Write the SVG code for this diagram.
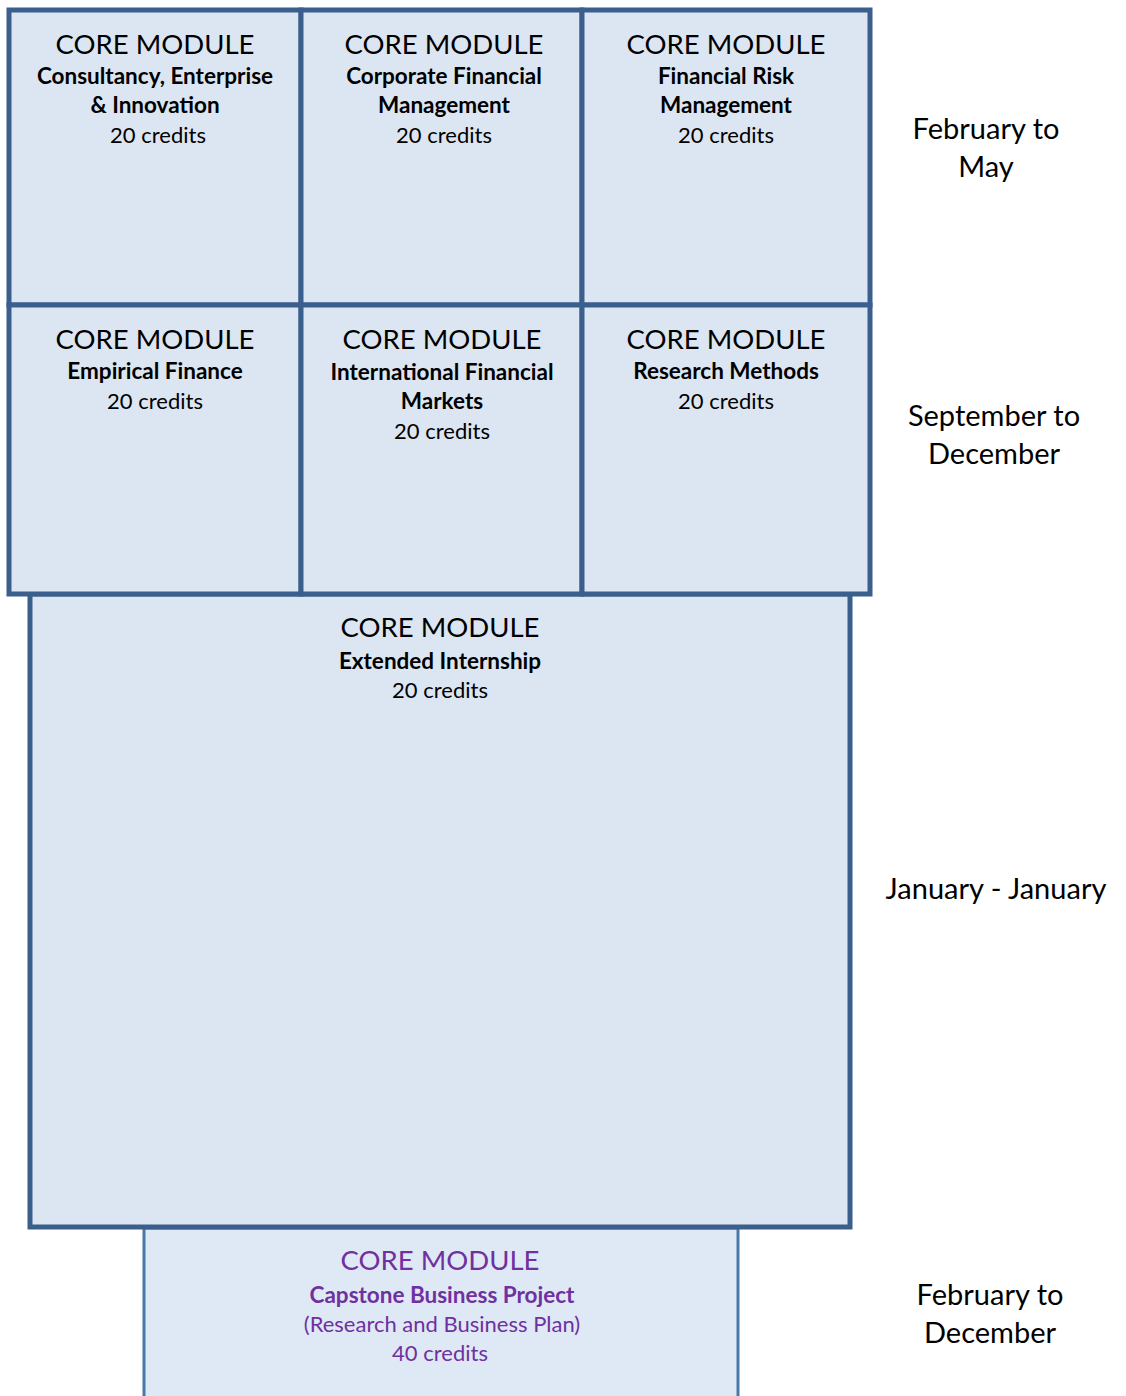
<svg xmlns="http://www.w3.org/2000/svg" width="1126" height="1396" viewBox="0 0 1126 1396">
<style>
.box{fill:#dce6f2;stroke:#3a5f8d;stroke-width:5}
.cap{fill:#dee9f5;stroke:#4a78a8;stroke-width:3}
text{font-family:Lato,"Open Sans","Liberation Sans",sans-serif;text-anchor:middle;fill:#000}
.h{font-size:27.5px}
.b{font-size:22.5px;font-weight:bold}
.c{font-size:22px}
.p{fill:#7030a0}
.s{font-size:29px}
</style>
<rect width="1126" height="1396" fill="#fff"/>
<g id="capstone">
<rect class="cap" x="144" y="1228" width="594" height="180"/>
<text class="h p" x="440" y="1270">CORE MODULE</text>
<text class="b p" x="442" y="1303">Capstone Business Project</text>
<text class="c p" x="442" y="1332">(Research and Business Plan)</text>
<text class="c p" x="440" y="1361">40 credits</text>
</g>
<g id="internship">
<rect class="box" x="30" y="594" width="820" height="633"/>
<text class="h" x="440" y="637">CORE MODULE</text>
<text class="b" x="440" y="669">Extended Internship</text>
<text class="c" x="440" y="698">20 credits</text>
</g>
<g id="cei">
<rect class="box" x="9" y="10" width="292" height="295"/>
<text class="h" x="155" y="54">CORE MODULE</text>
<text class="b" x="155" y="84">Consultancy, Enterprise</text>
<text class="b" x="155" y="113">&amp; Innovation</text>
<text class="c" x="158" y="143">20 credits</text>
</g>
<g id="cfm">
<rect class="box" x="301" y="10" width="281" height="295"/>
<text class="h" x="444" y="54">CORE MODULE</text>
<text class="b" x="444" y="84">Corporate Financial</text>
<text class="b" x="444" y="113">Management</text>
<text class="c" x="444" y="143">20 credits</text>
</g>
<g id="frm">
<rect class="box" x="582" y="10" width="288" height="295"/>
<text class="h" x="726" y="54">CORE MODULE</text>
<text class="b" x="726" y="84">Financial Risk</text>
<text class="b" x="726" y="113">Management</text>
<text class="c" x="726" y="143">20 credits</text>
</g>
<g id="ef">
<rect class="box" x="9" y="305" width="292" height="289"/>
<text class="h" x="155" y="349">CORE MODULE</text>
<text class="b" x="155" y="379">Empirical Finance</text>
<text class="c" x="155" y="409">20 credits</text>
</g>
<g id="ifm">
<rect class="box" x="301" y="305" width="281" height="289"/>
<text class="h" x="442" y="349">CORE MODULE</text>
<text class="b" x="442" y="380">International Financial</text>
<text class="b" x="442" y="409">Markets</text>
<text class="c" x="442" y="439">20 credits</text>
</g>
<g id="rm">
<rect class="box" x="582" y="305" width="288" height="289"/>
<text class="h" x="726" y="349">CORE MODULE</text>
<text class="b" x="726" y="379">Research Methods</text>
<text class="c" x="726" y="409">20 credits</text>
</g>
<g id="labels">
<text class="s" x="986" y="139">February to</text>
<text class="s" x="986" y="177">May</text>
<text class="s" x="994" y="426">September to</text>
<text class="s" x="994" y="464">December</text>
<text class="s" x="996" y="899">January - January</text>
<text class="s" x="990" y="1305">February to</text>
<text class="s" x="990" y="1343">December</text>
</g>
<g id="connectors"></g>
</svg>
